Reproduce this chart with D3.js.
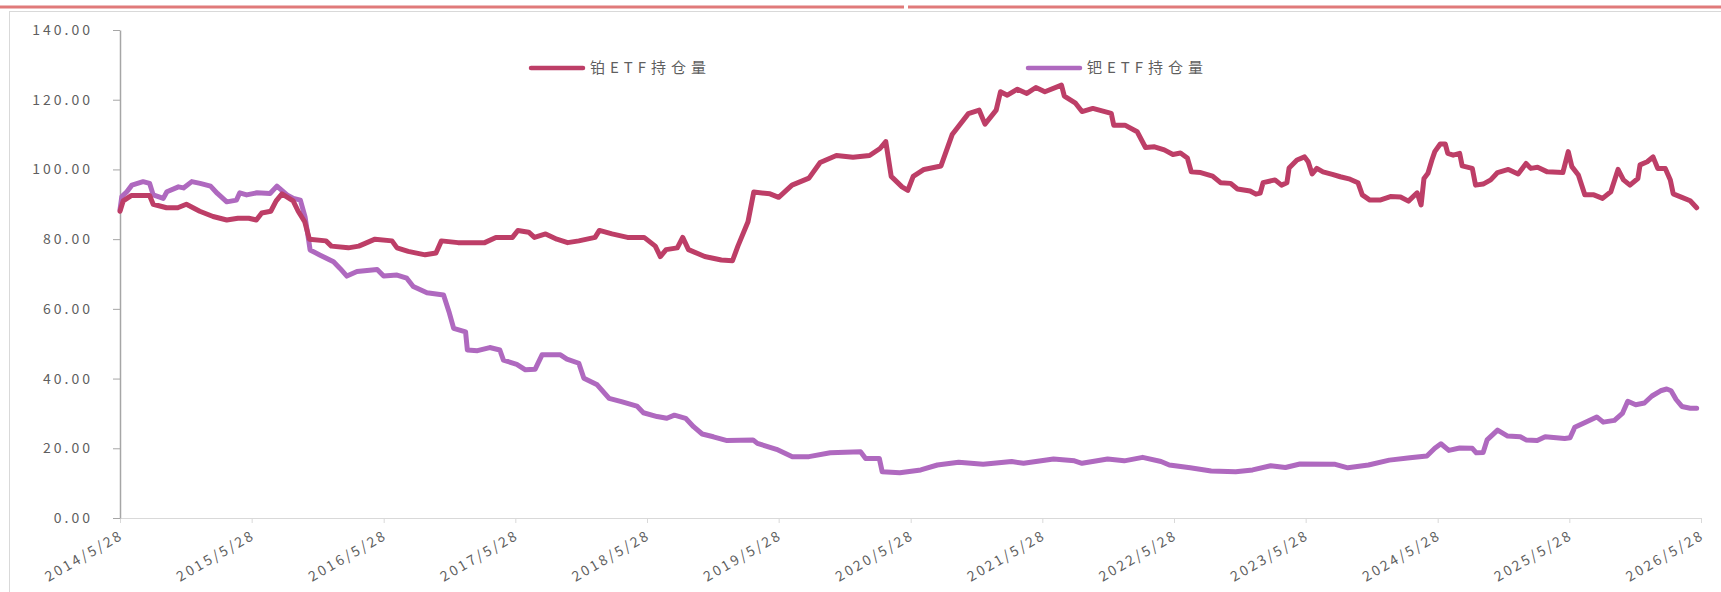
<!DOCTYPE html>
<html>
<head>
<meta charset="utf-8">
<script src="https://cdn.jsdelivr.net/npm/d3@7"></script>
<style>
  body { margin: 0; background: #fff; }
  text { font-family: "Noto Sans CJK SC", "DejaVu Sans", sans-serif; fill: #5f5f5f; }
</style>
</head>
<body>
<div id="chart-container"></div>
<script>
const seriesNames = ["铂ETF持仓量", "钯ETF持仓量"];
const xTickLabels = ["2014/5/28", "2015/5/28", "2016/5/28", "2017/5/28", "2018/5/28", "2019/5/28",
  "2020/5/28", "2021/5/28", "2022/5/28", "2023/5/28", "2024/5/28", "2025/5/28", "2026/5/28"];
const yTicks = [0, 20, 40, 60, 80, 100, 120, 140];

// 铂
const ptDates = ["2014-05-28","2014-06-06","2014-06-28","2014-08-18","2014-08-28","2014-10-04","2014-11-04","2014-11-28",
  "2015-01-04","2015-02-10","2015-03-20","2015-04-20","2015-05-20","2015-06-10","2015-06-25","2015-07-20","2015-08-04",
  "2015-08-20","2015-09-20","2015-10-04","2015-10-22","2015-11-04","2015-12-20","2016-01-04","2016-02-20","2016-03-20",
  "2016-05-04","2016-06-20","2016-07-04","2016-08-04","2016-09-20","2016-10-20","2016-11-04","2016-12-20","2017-03-04",
  "2017-04-04","2017-05-20","2017-06-04","2017-07-04","2017-07-20","2017-08-20","2017-09-20","2017-10-20","2017-11-20",
  "2018-01-04","2018-01-16","2018-02-20","2018-04-04","2018-05-20","2018-06-20","2018-07-04","2018-07-20","2018-08-20",
  "2018-09-04","2018-09-20","2018-11-04","2018-12-20","2019-01-20","2019-02-04","2019-03-04","2019-03-20","2019-05-04",
  "2019-05-28","2019-07-04","2019-08-20","2019-09-20","2019-11-04","2019-12-20","2020-02-04","2020-03-04","2020-03-20",
  "2020-04-04","2020-05-04","2020-05-20","2020-06-04","2020-07-04","2020-08-20","2020-09-20","2020-11-04","2020-12-04",
  "2020-12-20","2021-01-20","2021-02-01","2021-02-20","2021-03-20","2021-04-15","2021-05-10","2021-06-04","2021-07-20",
  "2021-07-28","2021-08-28","2021-09-15","2021-10-15","2021-12-05","2021-12-12","2022-01-12","2022-02-15","2022-03-10",
  "2022-04-04","2022-05-01","2022-05-25","2022-06-15","2022-07-04","2022-07-15","2022-08-10","2022-09-12","2022-10-04",
  "2022-11-01","2022-11-20","2022-12-25","2023-01-10","2023-01-22","2023-01-30","2023-03-04","2023-03-22","2023-04-06",
  "2023-04-12","2023-05-04","2023-05-25","2023-06-04","2023-06-15","2023-06-28","2023-07-15","2023-08-10","2023-09-01",
  "2023-09-28","2023-10-20","2023-11-01","2023-11-22","2023-12-20","2024-01-18","2024-02-15","2024-03-08","2024-04-01",
  "2024-04-12","2024-04-20","2024-05-01","2024-05-12","2024-05-20","2024-06-04","2024-06-18","2024-06-25","2024-07-10",
  "2024-07-28","2024-08-04","2024-09-01","2024-09-10","2024-10-01","2024-10-22","2024-11-10","2024-12-10","2025-01-06",
  "2025-01-28","2025-02-10","2025-03-01","2025-03-28","2025-05-10","2025-05-25","2025-06-04","2025-06-22","2025-07-10",
  "2025-08-04","2025-08-28","2025-09-20","2025-10-10","2025-10-25","2025-11-12","2025-12-04","2025-12-10","2025-12-30",
  "2026-01-15","2026-01-28","2026-02-18","2026-03-04","2026-03-12","2026-04-05","2026-04-28","2026-05-16"];
const ptValues = [88,91,92.5,92.5,90,89,89,90,
  88,86.5,85.5,86,86,85.5,87.5,88,91,
  93,91,88,85,80,79.5,78,77.5,78,
  80,79.5,77.5,76.5,75.5,76,79.5,79,79,
  80.5,80.5,82.5,82,80.5,81.5,80,79,79.5,
  80.5,82.5,81.5,80.5,80.5,78,75,77,77.5,
  80.5,77,75,74,73.8,78,85,93.5,93,
  92,95.5,97.5,102,104,103.5,104,106,108,
  98,95,94,98,100,101,110,116,117,
  113,117,122.3,121.3,123,121.8,123.5,122.3,124.2,
  121,119,116.6,117.5,116.1,112.7,112.7,110.8,106.3,
  106.5,105.6,104.3,104.7,103.3,99.3,99.1,98.1,96.2,
  96,94.4,93.8,92.9,93.2,96.2,97,95.5,96.2,
  100.4,102.7,103.6,102.2,98.7,100.3,99.3,98.6,97.9,
  97.2,96.2,92.7,91.2,91.2,92.2,92.1,90.9,93.3,
  89.8,97.4,98.9,102.7,105.1,107.3,107.3,104.6,104.1,
  104.6,101,100.3,95.5,95.8,97,99.1,100,98.7,
  101.7,100.3,100.6,99.3,99.1,105.1,100.8,98.4,92.7,
  92.7,91.7,93.6,100,97,95.5,97.4,101.3,102.2,
  103.6,100.3,100.3,97,93,92,91,89];

// 钯
const pdDates = ["2014-05-28","2014-06-02","2014-06-16","2014-06-30","2014-07-31","2014-08-18","2014-08-28","2014-09-25",
  "2014-10-05","2014-11-06","2014-11-20","2014-12-13","2015-01-05","2015-02-03","2015-02-22","2015-03-20","2015-04-16",
  "2015-04-25","2015-05-14","2015-06-12","2015-07-18","2015-08-06","2015-09-03","2015-09-21","2015-10-10","2015-10-23",
  "2015-11-02","2015-11-06","2015-12-04","2016-01-10","2016-01-28","2016-02-16","2016-03-15","2016-05-10","2016-05-28",
  "2016-07-04","2016-07-31","2016-08-18","2016-09-25","2016-11-10","2016-11-25","2016-12-08","2017-01-10","2017-01-15",
  "2017-02-12","2017-03-18","2017-04-15","2017-04-25","2017-06-01","2017-06-25","2017-07-22","2017-08-10","2017-09-30",
  "2017-10-18","2017-11-20","2017-12-04","2018-01-10","2018-02-12","2018-03-18","2018-04-30","2018-05-18","2018-06-25",
  "2018-07-22","2018-08-12","2018-09-12","2018-10-04","2018-10-28","2018-11-28","2019-01-05","2019-03-18","2019-03-30",
  "2019-05-22","2019-07-05","2019-08-20","2019-10-18","2020-01-10","2020-01-24","2020-03-02","2020-03-10","2020-04-28",
  "2020-06-25","2020-08-10","2020-10-08","2020-12-15","2021-03-04","2021-04-06","2021-06-28","2021-08-25","2021-09-15",
  "2021-11-25","2022-01-10","2022-03-02","2022-04-22","2022-05-15","2022-07-12","2022-09-08","2022-11-15","2023-01-01",
  "2023-02-20","2023-04-02","2023-05-12","2023-08-18","2023-09-22","2023-11-18","2024-01-15","2024-03-12","2024-04-28",
  "2024-05-20","2024-06-06","2024-06-28","2024-07-28","2024-09-01","2024-09-12","2024-10-01","2024-10-12","2024-11-10",
  "2024-12-08","2025-01-12","2025-01-28","2025-02-28","2025-03-22","2025-05-15","2025-05-30","2025-06-12","2025-07-12",
  "2025-08-12","2025-08-30","2025-09-30","2025-10-22","2025-11-06","2025-11-28","2025-12-22","2026-01-12","2026-02-05",
  "2026-02-22","2026-03-06","2026-03-20","2026-04-05","2026-04-28","2026-05-16"];
const pdValues = [88.4,92.2,93.6,95.5,96.5,96,92.7,91.7,
  93.6,95,94.7,96.5,96,95.2,93.1,90.7,91.2,
  93.3,92.7,93.3,93.1,95.2,92.7,91.7,91.2,86.4,
  79.7,76.9,75.4,73.5,71.6,69.4,70.7,71.3,69.4,
  69.7,68.8,66.4,64.6,64,59.2,54.4,53.4,48.2,
  48,48.9,48.2,45.3,44.1,42.5,42.7,46.8,46.8,
  45.6,44.4,40.1,38.2,34.3,33.4,32.1,30.2,29.1,
  28.6,29.5,28.6,26.2,24.1,23.3,22.2,22.4,21.4,
  19.7,17.6,17.6,18.7,19,17.1,17.1,13.3,13,
  13.8,15.2,16,15.4,16.2,15.7,16.9,16.4,15.7,
  16.9,16.4,17.4,16.2,15.2,14.4,13.5,13.3,13.8,
  15,14.5,15.5,15.4,14.4,15.2,16.6,17.3,17.8,
  20,21.3,19.4,20.1,20,18.7,18.8,22.4,25.2,
  23.5,23.3,22.4,22.2,23.3,22.8,23,26,27.5,
  29,27.5,28,30,33.5,32.5,33,35,36.5,
  37,36.5,34,32,31.5,31.5];

const colors = ["#BD3E67", "#AF69BF"];

const parseDate = d3.timeParse("%Y-%m-%d");
const parseTick = d3.timeParse("%Y/%m/%d");

const W = 1721, H = 592;
const svg = d3.select("#chart-container").append("svg").attr("width", W).attr("height", H);

// outer frame + red rule on top
svg.append("rect").attr("x", 9.5).attr("y", 11.5).attr("width", W).attr("height", H)
  .attr("fill", "none").attr("stroke", "#d9d9d9").attr("stroke-width", 1);
svg.append("line").attr("x1", 0).attr("x2", 904).attr("y1", 7).attr("y2", 7)
  .attr("stroke", "#e07a7a").attr("stroke-width", 3);
svg.append("line").attr("x1", 908).attr("x2", W).attr("y1", 7).attr("y2", 7)
  .attr("stroke", "#e07a7a").attr("stroke-width", 3);

const x = d3.scaleTime()
  .domain([parseTick(xTickLabels[0]), parseTick(xTickLabels[xTickLabels.length - 1])])
  .range([120, 1701]);
const y = d3.scaleLinear().domain([0, 140]).range([518, 30]);

// x axis
const xAxis = svg.append("g")
  .attr("transform", "translate(0,518)")
  .call(d3.axisBottom(x)
    .tickValues(xTickLabels.map(parseTick))
    .tickSize(5).tickSizeOuter(0)
    .tickFormat((d, i) => xTickLabels[i]));
xAxis.select(".domain").attr("stroke", "#d9d9d9");
xAxis.selectAll(".tick line").attr("stroke", "#d9d9d9");
xAxis.selectAll(".tick text")
  .attr("font-size", 14).attr("letter-spacing", "2.5px")
  .attr("text-anchor", "end")
  .attr("dy", 0).attr("y", 0)
  .attr("transform", "translate(4,20) rotate(-30)");

// y axis
const yAxis = svg.append("g")
  .attr("transform", "translate(120,0)")
  .call(d3.axisLeft(y).tickValues(yTicks).tickSize(7).tickSizeOuter(0).tickPadding(20)
    .tickFormat(d3.format(".2f")));
yAxis.select(".domain").attr("stroke", "#a6a6a6").attr("stroke-width", 1.5);
yAxis.selectAll(".tick line").attr("stroke", "#a6a6a6");
yAxis.selectAll(".tick text").attr("font-size", 14).attr("letter-spacing", "3px");

const line = d3.line().x(d => x(d.date)).y(d => y(d.value));

const series = [
  ptDates.map((d, i) => ({ date: parseDate(d), value: ptValues[i] })),
  pdDates.map((d, i) => ({ date: parseDate(d), value: pdValues[i] }))
];

// palladium drawn first, platinum on top
[1, 0].forEach(k => {
  svg.append("path")
    .datum(series[k])
    .attr("fill", "none")
    .attr("stroke", colors[k])
    .attr("stroke-width", 5)
    .attr("stroke-linejoin", "round")
    .attr("stroke-linecap", "round")
    .attr("d", line);
});

// legend
const legendX = [531, 1028];
seriesNames.forEach((name, i) => {
  const g = svg.append("g").attr("transform", `translate(${legendX[i]},68)`);
  g.append("line").attr("x1", 0).attr("x2", 52).attr("stroke", colors[i])
    .attr("stroke-width", 4.5).attr("stroke-linecap", "round");
  g.append("text").attr("x", 59).attr("dy", "0.35em")
    .attr("font-size", 15).attr("letter-spacing", "5px").text(name);
});
</script>
</body>
</html>
